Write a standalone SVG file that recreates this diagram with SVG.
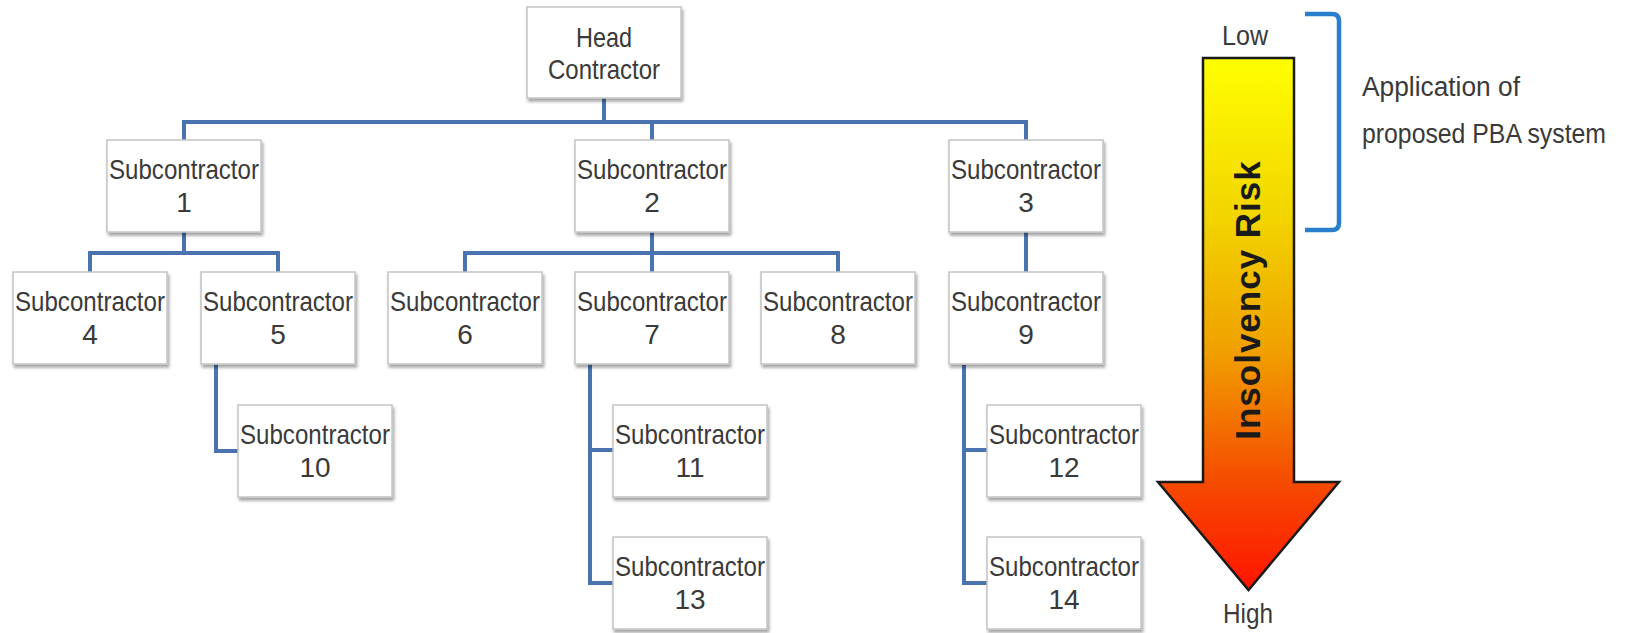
<svg xmlns="http://www.w3.org/2000/svg" width="1627" height="633" viewBox="0 0 1627 633">
  <style>
    .box { fill: #ffffff; stroke: #c4c4c4; stroke-width: 1.5; filter: url(#shadow); }
    .lbl { font-family: "Liberation Sans", Arial, sans-serif; font-size: 28px; fill: #3a3a3a; text-anchor: middle; }
    .side { font-family: "Liberation Sans", Arial, sans-serif; font-size: 27px; fill: #3a3a3a; }
    .conn { fill: none; stroke: #4a74b0; stroke-width: 4; }
    .risk { font-family: "Liberation Sans", Arial, sans-serif; font-size: 35px; font-weight: bold; fill: #1a1a1a; text-anchor: middle; }
  </style>
  <defs>
    <filter id="shadow" x="-10%" y="-10%" width="125%" height="130%">
      <feDropShadow dx="1.5" dy="3" stdDeviation="1.8" flood-color="#000" flood-opacity="0.35"/>
    </filter>
    <linearGradient id="riskGrad" gradientUnits="userSpaceOnUse" x1="0" y1="58" x2="0" y2="590">
      <stop offset="0" stop-color="#ffff00"/>
      <stop offset="0.3" stop-color="#f2d400"/>
      <stop offset="0.55" stop-color="#f0a000"/>
      <stop offset="0.8" stop-color="#f54a00"/>
      <stop offset="1" stop-color="#ff1400"/>
    </linearGradient>
  </defs>
  <rect width="1627" height="633" fill="#ffffff"/>

  <g id="connectors">
    <path class="conn" d="M604 98 V122 M184 140 V122 H1026 V140 M652 122 V140"/>
    <path class="conn" d="M184 232 V253 M90 272 V253 H278 V272"/>
    <path class="conn" d="M652 232 V253 M465 272 V253 H838 V272 M652 253 V272"/>
    <path class="conn" d="M1026 232 V272"/>
    <path class="conn" d="M216 363 V451 H238"/>
    <path class="conn" d="M590 364 V583 H613 M590 450 H613"/>
    <path class="conn" d="M964 365 V583 H987 M964 450 H987"/>
  </g>

  <g id="head">
    <rect class="box" x="527" y="7" width="154" height="91"/>
    <text class="lbl" x="604" y="47" textLength="56" lengthAdjust="spacingAndGlyphs">Head</text>
    <text class="lbl" x="604" y="79" textLength="112" lengthAdjust="spacingAndGlyphs">Contractor</text>
  </g>
  <g id="sub1">
    <rect class="box" x="107" y="140" width="154" height="92"/>
    <text class="lbl" x="184" y="179" textLength="150" lengthAdjust="spacingAndGlyphs">Subcontractor</text>
    <text class="lbl" x="184" y="212">1</text>
  </g>
  <g id="sub2">
    <rect class="box" x="575" y="140" width="154" height="92"/>
    <text class="lbl" x="652" y="179" textLength="150" lengthAdjust="spacingAndGlyphs">Subcontractor</text>
    <text class="lbl" x="652" y="212">2</text>
  </g>
  <g id="sub3">
    <rect class="box" x="949" y="140" width="154" height="92"/>
    <text class="lbl" x="1026" y="179" textLength="150" lengthAdjust="spacingAndGlyphs">Subcontractor</text>
    <text class="lbl" x="1026" y="212">3</text>
  </g>
  <g id="sub4">
    <rect class="box" x="13" y="272" width="154" height="92"/>
    <text class="lbl" x="90" y="311" textLength="150" lengthAdjust="spacingAndGlyphs">Subcontractor</text>
    <text class="lbl" x="90" y="344">4</text>
  </g>
  <g id="sub5">
    <rect class="box" x="201" y="272" width="154" height="92"/>
    <text class="lbl" x="278" y="311" textLength="150" lengthAdjust="spacingAndGlyphs">Subcontractor</text>
    <text class="lbl" x="278" y="344">5</text>
  </g>
  <g id="sub6">
    <rect class="box" x="388" y="272" width="154" height="92"/>
    <text class="lbl" x="465" y="311" textLength="150" lengthAdjust="spacingAndGlyphs">Subcontractor</text>
    <text class="lbl" x="465" y="344">6</text>
  </g>
  <g id="sub7">
    <rect class="box" x="575" y="272" width="154" height="92"/>
    <text class="lbl" x="652" y="311" textLength="150" lengthAdjust="spacingAndGlyphs">Subcontractor</text>
    <text class="lbl" x="652" y="344">7</text>
  </g>
  <g id="sub8">
    <rect class="box" x="761" y="272" width="154" height="92"/>
    <text class="lbl" x="838" y="311" textLength="150" lengthAdjust="spacingAndGlyphs">Subcontractor</text>
    <text class="lbl" x="838" y="344">8</text>
  </g>
  <g id="sub9">
    <rect class="box" x="949" y="272" width="154" height="92"/>
    <text class="lbl" x="1026" y="311" textLength="150" lengthAdjust="spacingAndGlyphs">Subcontractor</text>
    <text class="lbl" x="1026" y="344">9</text>
  </g>
  <g id="sub10">
    <rect class="box" x="238" y="405" width="154" height="92"/>
    <text class="lbl" x="315" y="444" textLength="150" lengthAdjust="spacingAndGlyphs">Subcontractor</text>
    <text class="lbl" x="315" y="477">10</text>
  </g>
  <g id="sub11">
    <rect class="box" x="613" y="405" width="154" height="92"/>
    <text class="lbl" x="690" y="444" textLength="150" lengthAdjust="spacingAndGlyphs">Subcontractor</text>
    <text class="lbl" x="690" y="477">11</text>
  </g>
  <g id="sub12">
    <rect class="box" x="987" y="405" width="154" height="92"/>
    <text class="lbl" x="1064" y="444" textLength="150" lengthAdjust="spacingAndGlyphs">Subcontractor</text>
    <text class="lbl" x="1064" y="477">12</text>
  </g>
  <g id="sub13">
    <rect class="box" x="613" y="537" width="154" height="92"/>
    <text class="lbl" x="690" y="576" textLength="150" lengthAdjust="spacingAndGlyphs">Subcontractor</text>
    <text class="lbl" x="690" y="609">13</text>
  </g>
  <g id="sub14">
    <rect class="box" x="987" y="537" width="154" height="92"/>
    <text class="lbl" x="1064" y="576" textLength="150" lengthAdjust="spacingAndGlyphs">Subcontractor</text>
    <text class="lbl" x="1064" y="609">14</text>
  </g>

  <g id="risk-arrow">
    <path d="M1203 58 H1294 V482 H1339 L1248.5 590 L1158 482 H1203 Z" fill="url(#riskGrad)" stroke="#1a1a1a" stroke-width="2.5" stroke-linejoin="miter"/>
    <text class="risk" x="1260" y="300" transform="rotate(-90 1260 300)" letter-spacing="1">Insolvency Risk</text>
    <text class="lbl" x="1245" y="45" textLength="46" lengthAdjust="spacingAndGlyphs">Low</text>
    <text class="lbl" x="1248" y="623" textLength="50" lengthAdjust="spacingAndGlyphs">High</text>
  </g>

  <g id="bracket">
    <path d="M1305 14 H1332 Q1339 14 1339 21 V223 Q1339 230 1332 230 H1305" fill="none" stroke="#2a7fcc" stroke-width="4.5"/>
    <text class="side" x="1362" y="96" textLength="158" lengthAdjust="spacingAndGlyphs">Application of</text>
    <text class="side" x="1362" y="143" textLength="244" lengthAdjust="spacingAndGlyphs">proposed PBA system</text>
  </g>
</svg>
